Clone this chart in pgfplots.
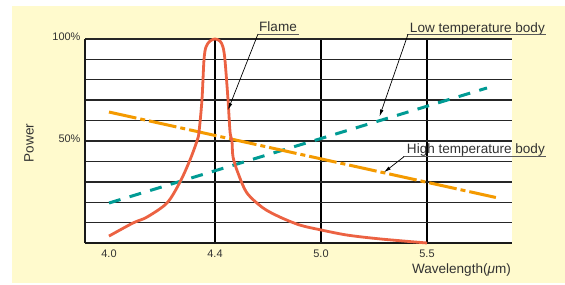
\documentclass[border=0pt]{standalone}
\usepackage{fontspec}
\setmainfont{Liberation Sans}
\usepackage{pgfplots}
\pgfplotsset{compat=1.18}
\usetikzlibrary{arrows.meta}
\definecolor{bgyellow}{RGB}{255,250,205}
\definecolor{txtgray}{RGB}{50,50,50}
\definecolor{flamered}{RGB}{236,98,66}
\definecolor{lowteal}{RGB}{0,155,148}
\definecolor{highorange}{RGB}{244,154,0}
\begin{document}
\begin{tikzpicture}[x=1bp,y=1bp]
\path[use as bounding box] (0,0) rectangle (565,284);
\fill[bgyellow] (12,1) rectangle (565,278);
\begin{axis}[
  at={(85bp,41bp)}, anchor=south west,
  scale only axis, width=427bp, height=204bp,
  xmin=-0.2264, xmax=3.802, ymin=0, ymax=100,
  axis background/.style={fill=white},
  xtick={1,2,3}, xticklabels={4.4,5.0,5.5},
  extra x ticks={0}, extra x tick labels={4.0},
  extra x tick style={grid=none},
  ytick={0,10,...,100}, yticklabels={,,,,,50\%,,,,,100\%},
  xmajorgrids, ymajorgrids,
  x grid style={black, line width=1.4bp},
  y grid style={black!85, line width=1.4bp},
  major tick length=0,
  axis x line*=bottom, axis y line*=left,
  axis line style={line width=1.5bp, black!90, -},
  tick label style={font=\fontsize{11}{13}\selectfont, text=txtgray},
  xticklabel style={yshift=-3.3bp},
  yticklabel style={yshift=2.5bp, xshift=-1bp},
  clip=false,
]
\addplot[lowteal, line width=3bp, dash pattern=on 12bp off 9.5bp] coordinates {(0,19.6) (3.566,76)};
\addplot[highorange, line width=3bp, dash pattern=on 28bp off 4bp on 5bp off 4bp] coordinates {(0,64.2) (3.65,22.3)};
\addplot[flamered, line width=2.8bp, smooth, tension=0.5] coordinates {
(0,3.4) (0.226,9.8) (0.358,12.7) (0.547,19.6) (0.670,29.9) (0.764,40.7)
(0.830,50.0) (0.849,54.4) (0.877,70.1) (0.896,89.7) (0.915,96.1) (0.953,99.0)
(1.0,100) (1.047,99.0) (1.075,96.1) (1.094,89.7) (1.123,70.1) (1.142,54.4)
(1.16,50) (1.17,42.2) (1.217,34.3) (1.302,24.5) (1.453,17.2) (1.613,12.7)
(1.80,8.8) (2.0,6.4) (2.245,3.9) (2.557,2.0) (3.0,0)};
\end{axis}
% labels
\node[rotate=90, text=txtgray, font=\fontsize{13.6}{16}\selectfont] at (29,141) {Power};
\node[anchor=base east, inner sep=0, text=txtgray, font=\fontsize{13.6}{16}\selectfont] at (511,10.7) {Wavelength(\textit{μ}m)};
% annotations
\node[anchor=base, inner sep=0, text=txtgray, font=\fontsize{13.6}{16}\selectfont] at (278,252.3) {Flame};
\draw[black!65, line width=0.8bp] (258,250) -- (299,250);
\draw[line width=0.7bp, -{Latex[length=7bp,width=3.6bp]}] (258,250) -- (228,174);
\node[anchor=base east, inner sep=0, text=txtgray, font=\fontsize{13.6}{16}\selectfont] at (545,251.7) {Low temperature body};
\draw[black!65, line width=0.8bp] (406.5,249.7) -- (545.5,249.7);
\draw[line width=0.7bp, -{Latex[length=7bp,width=3.6bp]}] (408,249.7) -- (379.5,167.5);
\node[anchor=base east, inner sep=0, text=txtgray, font=\fontsize{13.6}{16}\selectfont] at (545,130.7) {High temperature body};
\draw[black!65, line width=0.8bp] (403,127.3) -- (545.5,127.3);
\draw[line width=0.7bp, -{Latex[length=7bp,width=3.6bp]}] (404,127.3) -- (384,111.7);
\end{tikzpicture}
\end{document}
